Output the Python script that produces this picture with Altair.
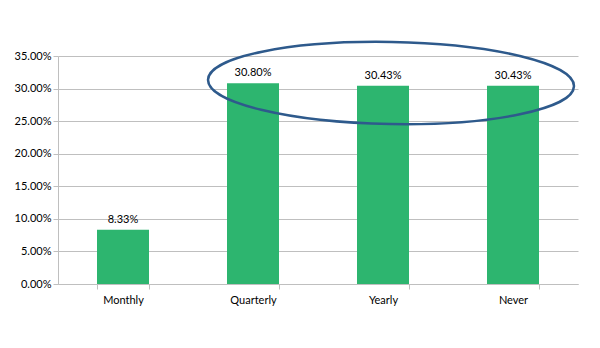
import altair as alt
import pandas as pd

categories = ["Monthly", "Quarterly", "Yearly", "Never"]
values = [0.0833, 0.3080, 0.3043, 0.3043]
labels = ["8.33%", "30.80%", "30.43%", "30.43%"]
y_ticks = [0, 0.05, 0.10, 0.15, 0.20, 0.25, 0.30, 0.35]

df = pd.DataFrame({"cat": categories, "val": values, "lab": labels})

FONT = "Lato"
GRAY = "#BFBFBF"

x = alt.X("cat:N", sort=categories, title=None,
          scale=alt.Scale(paddingInner=0.6, paddingOuter=0.3),
          axis=alt.Axis(labelAngle=0, tickBand="extent", tickSize=5, tickColor=GRAY,
                        domainColor=GRAY, labelPadding=5, labelFont=FONT,
                        labelFontSize=11, labelColor="#000000", grid=False))
y = alt.Y("val:Q", title=None,
          scale=alt.Scale(domain=[0, 0.35], nice=False),
          axis=alt.Axis(values=y_ticks, format=".2%", tickSize=5, tickColor=GRAY,
                        domainColor=GRAY, gridColor=GRAY, labelPadding=2,
                        labelFont=FONT, labelFontSize=11, labelColor="#000000"))

bars = alt.Chart(df).mark_bar(color="#2DB56F").encode(x=x, y=y)
text = alt.Chart(df).mark_text(baseline="bottom", dy=-5, font=FONT, fontSize=11,
                               color="#000000").encode(x=x, y=y, text="lab:N")

ellipse_path = ("M -1 0 C -1 -0.124 -0.552 -0.224 0 -0.224 "
                "C 0.552 -0.224 1 -0.124 1 0 "
                "C 1 0.124 0.552 0.224 0 0.224 "
                "C -0.552 0.224 -1 0.124 -1 0 Z")
ell = alt.Chart(pd.DataFrame({"a": [0]})).mark_point(
    shape=ellipse_path, filled=False, stroke="#2E5A8C", strokeWidth=2.5,
    opacity=1, angle=1
).encode(x=alt.value(333), y=alt.value(27), size=alt.value(366 * 366))

chart = alt.layer(bars, text, ell).properties(
    width=520, height=228,
    autosize=alt.AutoSizeParams(type="none"),
    padding={"left": 58, "top": 56, "right": 22, "bottom": 64},
    background="white",
).configure_view(stroke=None)

chart.save("out.html", embed_options={"renderer": "svg", "actions": False})
